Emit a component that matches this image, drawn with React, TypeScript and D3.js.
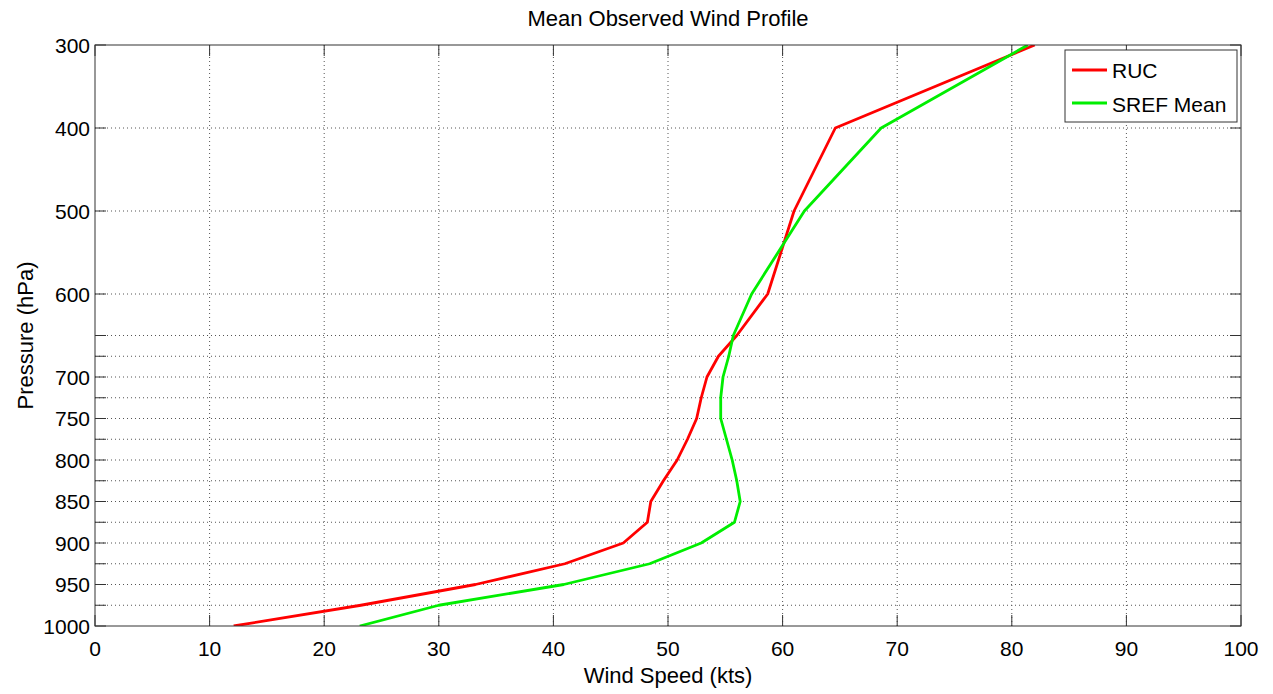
import React from "react";
import * as d3 from "d3";

const pressureLevels = [300, 400, 500, 600, 650, 675, 700, 725, 750, 775, 800, 825, 850, 875, 900, 925, 950, 975, 1000];
const rucSpeed = [82.0, 64.6, 61.0, 58.7, 56.0, 54.4, 53.4, 52.9, 52.5, 51.7, 50.8, 49.6, 48.5, 48.2, 46.1, 41.0, 33.2, 23.2, 12.1];
const srefSpeed = [81.4, 68.6, 61.9, 57.3, 55.7, 55.3, 54.8, 54.6, 54.6, 55.1, 55.6, 56.0, 56.3, 55.8, 52.9, 48.4, 40.9, 30.0, 23.1];
const yTicks = [300, 400, 500, 600, 650, 675, 700, 725, 750, 775, 800, 825, 850, 875, 900, 925, 950, 975, 1000];
const yTickLabels = ["300", "400", "500", "600", "", "", "700", "", "750", "", "800", "", "850", "", "900", "", "950", "", "1000"];
const xTicks = [0, 10, 20, 30, 40, 50, 60, 70, 80, 90, 100];
const seriesNames = ["RUC", "SREF Mean"];
const seriesColors = ["#ff0000", "#00ee00"];

const W = 1273;
const H = 694;
const left = 95, right = 1241, top = 45, bottom = 626;
const font = "'Liberation Sans', Arial, Helvetica, sans-serif";

export default function App() {
  const x = d3.scaleLinear().domain([0, 100]).range([left, right]);
  const y = d3.scaleLinear().domain([300, 1000]).range([top, bottom]);
  const line = d3
    .line<[number, number]>()
    .x((d) => x(d[0]))
    .y((d) => y(d[1]));
  const series = [rucSpeed, srefSpeed].map((s) => s.map((v, i) => [v, pressureLevels[i]] as [number, number]));
  const tickLen = 11;
  const gridStyle = { stroke: "#555", strokeWidth: 1, strokeDasharray: "1,3" };

  return (
    <svg width={W} height={H} style={{ position: "absolute", left: 0, top: 0, background: "#fff" }}>
      <rect x={0} y={0} width={W} height={H} fill="#fff" />
      <clipPath id="plot">
        <rect x={left} y={top} width={right - left} height={bottom - top} />
      </clipPath>
      {/* grid */}
      {xTicks.slice(1, -1).map((t) => (
        <line key={"gx" + t} x1={x(t)} x2={x(t)} y1={top} y2={bottom} {...gridStyle} />
      ))}
      {yTicks.slice(1, -1).map((t) => (
        <line key={"gy" + t} x1={left} x2={right} y1={y(t)} y2={y(t)} {...gridStyle} />
      ))}
      {/* ticks */}
      {xTicks.map((t) => (
        <g key={"tx" + t}>
          <line x1={x(t)} x2={x(t)} y1={bottom} y2={bottom - tickLen} stroke="#333" />
          <line x1={x(t)} x2={x(t)} y1={top} y2={top + tickLen} stroke="#333" />
          <text x={x(t)} y={656} textAnchor="middle" fontFamily={font} fontSize={21} fill="#000">
            {t}
          </text>
        </g>
      ))}
      {yTicks.map((t, i) => (
        <g key={"ty" + t}>
          <line x1={left} x2={left + tickLen} y1={y(t)} y2={y(t)} stroke="#333" />
          <line x1={right} x2={right - tickLen} y1={y(t)} y2={y(t)} stroke="#333" />
          {yTickLabels[i] && (
            <text x={90} y={y(t) + 7.5} textAnchor="end" fontFamily={font} fontSize={21} fill="#000">
              {yTickLabels[i]}
            </text>
          )}
        </g>
      ))}
      {/* data */}
      <g clipPath="url(#plot)">
        {series.map((s, i) => (
          <path key={"s" + i} d={line(s) || ""} fill="none" stroke={seriesColors[i]} strokeWidth={2.8} strokeLinejoin="round" />
        ))}
      </g>
      {/* axes box */}
      <rect x={left} y={top} width={right - left} height={bottom - top} fill="none" stroke="#333" strokeWidth={1} />
      {/* legend */}
      <rect x={1065} y={50} width={172} height={72} fill="#fff" stroke="#333" strokeWidth={1} />
      {seriesNames.map((n, i) => (
        <g key={"lg" + n}>
          <line x1={1072} x2={1107} y1={70 + i * 33} y2={70 + i * 33} stroke={seriesColors[i]} strokeWidth={2.8} />
          <text x={1112} y={78 + i * 34} fontFamily={font} fontSize={21} fill="#000">
            {n}
          </text>
        </g>
      ))}
      {/* labels */}
      <text x={(left + right) / 2} y={26} textAnchor="middle" fontFamily={font} fontSize={22} fill="#000">
        Mean Observed Wind Profile
      </text>
      <text x={(left + right) / 2} y={683} textAnchor="middle" fontFamily={font} fontSize={22} fill="#000">
        Wind Speed (kts)
      </text>
      <text
        transform={`translate(33, ${(top + bottom) / 2}) rotate(-90)`}
        textAnchor="middle"
        fontFamily={font}
        fontSize={22}
        fill="#000"
      >
        Pressure (hPa)
      </text>
    </svg>
  );
}
